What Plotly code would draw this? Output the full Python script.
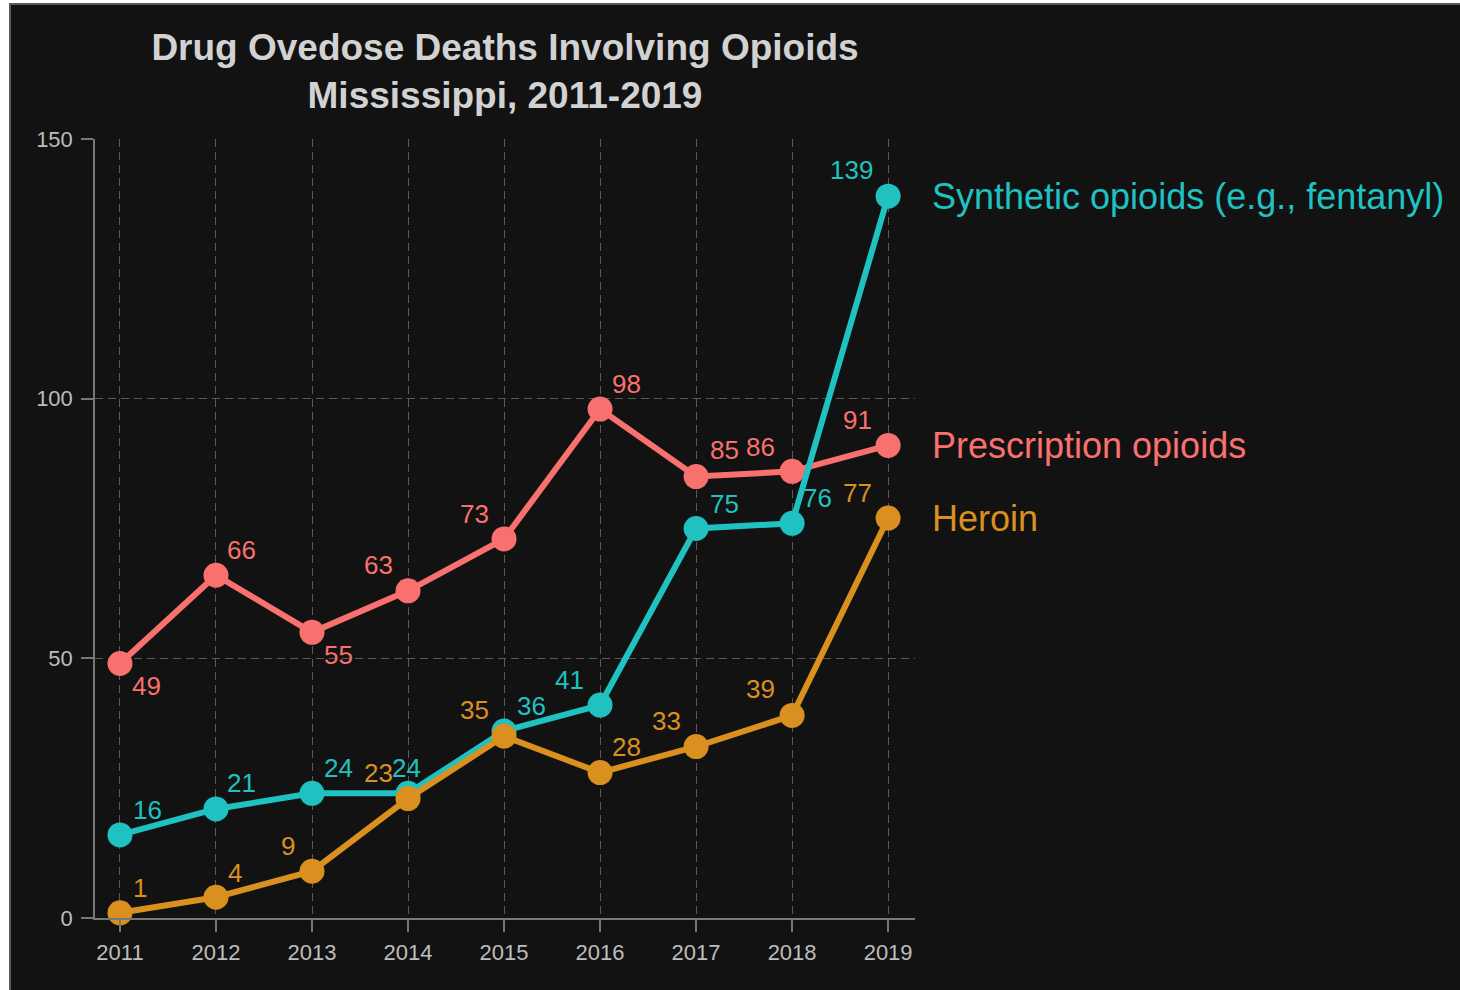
import plotly.graph_objects as go

# ---- data ----
years = [2011, 2012, 2013, 2014, 2015, 2016, 2017, 2018, 2019]
prescription = [49, 66, 55, 63, 73, 98, 85, 86, 91]
synthetic = [16, 21, 24, 24, 36, 41, 75, 76, 139]
heroin = [1, 4, 9, 23, 35, 28, 33, 39, 77]

series_names = ["Prescription opioids", "Synthetic opioids (e.g., fentanyl)", "Heroin"]
y_ticks = [0, 50, 100, 150]

# ---- styling ----
W, H = 1460, 990
ML, MR, MT, MB = 95, 545, 139, 72
PW, PH = W - ML - MR, H - MT - MB

BG = "#121212"
COLORS = {
    "Prescription opioids": "#F8716E",
    "Synthetic opioids (e.g., fentanyl)": "#20C1C1",
    "Heroin": "#D9901E",
}
FONT = "Arial"

# value-label offsets in pixels (dx right, dy down) so labels avoid the lines
label_offsets = {
    "Prescription opioids": [(27, 22), (26, -25), (26, 23), (-30, -26), (-30, -25),
                             (26, -25), (28, -27), (-32, -24), (-31, -25)],
    "Synthetic opioids (e.g., fentanyl)": [(28, -25), (26, -26), (26, -25), (-2, -25), (27, -25),
                                           (-31, -25), (28, -25), (25, -25), (-37, -26)],
    "Heroin": [(20, -25), (19, -24), (-24, -25), (-30, -26), (-30, -26),
               (26, -26), (-30, -26), (-32, -26), (-31, -25)],
}

values = {
    "Prescription opioids": prescription,
    "Synthetic opioids (e.g., fentanyl)": synthetic,
    "Heroin": heroin,
}


def px_x(p):
    return (p - ML) / PW


def px_y(p):
    return 1 - (p - MT) / PH


fig = go.Figure()

# draw order: prescription below, heroin on top
for name in series_names:
    fig.add_trace(go.Scatter(
        x=years, y=values[name], mode="lines+markers", name=name,
        line=dict(color=COLORS[name], width=6),
        marker=dict(color=COLORS[name], size=25),
        showlegend=False, cliponaxis=False,
    ))

annotations = []
for name in series_names:
    for yr, v, (dx, dy) in zip(years, values[name], label_offsets[name]):
        annotations.append(dict(
            x=yr, y=v, xref="x", yref="y", text=str(v), showarrow=False,
            xshift=dx, yshift=-dy, xanchor="center", yanchor="middle",
            font=dict(family=FONT, size=26, color=COLORS[name]),
        ))
    # series name at the end of each line
    annotations.append(dict(
        x=years[-1], y=values[name][-1], xref="x", yref="y", text=name,
        showarrow=False, xshift=42, xanchor="left", yanchor="middle",
        font=dict(family=FONT, size=36, color=COLORS[name]),
    ))

fig.update_layout(
    width=W, height=H,
    margin=dict(l=ML, r=MR, t=MT, b=MB),
    paper_bgcolor="white",
    plot_bgcolor=BG,
    title=dict(
        text="Drug Ovedose Deaths Involving Opioids<br>Mississippi, 2011-2019",
        x=0.5, xref="paper", xanchor="center",
        y=1 - 60 / H, yref="container", yanchor="middle",
        font=dict(family=FONT, size=37, color="#D2D2D2", weight="bold"),
    ),
    annotations=annotations,
    shapes=[
        # dark panel with a thin grey frame
        dict(type="rect", xref="paper", yref="paper", layer="below",
             x0=px_x(10), x1=px_x(W + 10), y0=px_y(H + 10), y1=px_y(4),
             fillcolor=BG, line=dict(color="#5A5A5A", width=2)),
    ],
    xaxis=dict(
        range=[2010.74, 2019.28], tickvals=years, ticktext=[str(y) for y in years],
        showgrid=True, gridcolor="#5A5A5A", gridwidth=1, griddash="8px,5px",
        showline=True, linecolor="#777777", linewidth=1.5,
        ticks="outside", ticklen=12, tickcolor="#777777", tickwidth=1.5,
        ticklabelstandoff=2,
        tickfont=dict(family=FONT, size=22, color="#BDBDBD"),
        zeroline=False, fixedrange=True,
    ),
    yaxis=dict(
        range=[0, 150], tickvals=y_ticks,
        showgrid=True, gridcolor="#5A5A5A", gridwidth=1, griddash="8px,5px",
        showline=True, linecolor="#777777", linewidth=1.5,
        ticks="outside", ticklen=12, tickcolor="#777777", tickwidth=1.5,
        ticklabelstandoff=4,
        tickfont=dict(family=FONT, size=22, color="#BDBDBD"),
        zeroline=False, fixedrange=True,
    ),
)

fig.write_html("out.html")
